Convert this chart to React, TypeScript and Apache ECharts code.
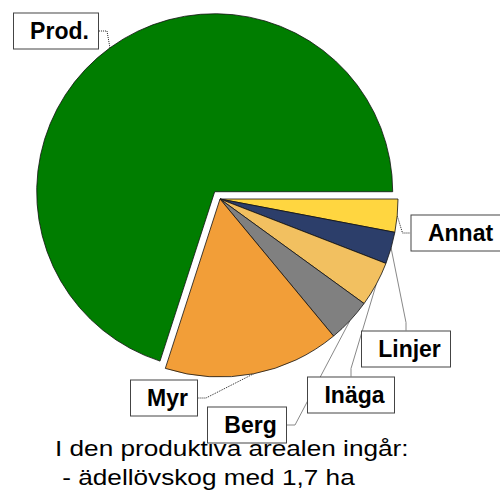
import React, { useEffect, useRef } from "react";
import * as echarts from "echarts";

const categories = ["Annat", "Linjer", "Inäga", "Berg", "Myr", "Prod."];
const shares = [3.0, 2.9, 4.1, 4.0, 16.0, 70.1];
const colors = ["#FFD640", "#2C3E6A", "#F2C060", "#808080", "#F29E38", "#007D00"];
const noteLines = ["I den produktiva arealen ingår:", " - ädellövskog med 1,7 ha"];
const explodedName = "Prod.";

// label box centres (pixels)
const labelCentres: [number, number][] = [
  [457, 233],
  [406, 349],
  [351, 395],
  [247, 425],
  [164, 398],
  [56, 31],
];
const dottedLeaders = [true, false, false, false, true, true];

const FONT = "Liberation Sans, Arial, sans-serif";

function measure(text: string): number {
  const c = document.createElement("canvas").getContext("2d")!;
  c.font = `bold 23px ${FONT}`;
  return Math.ceil(c.measureText(text).width);
}

export default function App() {
  const ref = useRef<HTMLDivElement>(null);
  useEffect(() => {
    document.body.style.margin = "0";
    const chart = echarts.init(ref.current!, undefined, { renderer: "svg" });
    const center: [number, number] = [220, 199];
    const offset = 9;
    const total = shares.reduce((a, b) => a + b, 0);
    const exIdx = categories.indexOf(explodedName);
    const before = shares.slice(0, exIdx).reduce((a, b) => a + b, 0);
    const midAngle = ((before + shares[exIdx] / 2) / total) * Math.PI * 2;
    const center2: [number, number] = [
      center[0] + Math.cos(midAngle) * offset,
      center[1] + Math.sin(midAngle) * offset,
    ];

    const makeData = (showExploded: boolean) =>
      categories.map((name, i) => {
        const visible = (name === explodedName) === showExploded;
        return {
          name,
          value: shares[i],
          itemStyle: visible
            ? { color: colors[i] }
            : { color: "rgba(0,0,0,0)", borderWidth: 0 },
          label: visible ? { show: true, width: measure(name) } : { show: false },
          labelLine: visible
            ? {
                show: true,
                lineStyle: {
                  type: dottedLeaders[i] ? "dotted" : "solid",
                  color: dottedLeaders[i] ? "#222" : "#888",
                  width: 1,
                },
              }
            : { show: false },
        };
      });

    const common = {
      type: "pie",
      radius: [0, 178],
      startAngle: 0,
      clockwise: true,
      silent: true,
      itemStyle: { borderColor: "#111", borderWidth: 0.8 },
      label: {
        show: true,
        formatter: "{b}",
        overflow: "none",
        fontSize: 23,
        fontWeight: "bold",
        fontFamily: FONT,
        color: "#000",
        backgroundColor: "#fff",
        borderColor: "#444",
        borderWidth: 1,
        padding: [6, 9, 6, 16],
        lineHeight: 23,
      },
      labelLine: { show: true, length: 12, length2: 8 },
      labelLayout: (params: any) => {
        const p = labelCentres[params.dataIndex];
        return { x: p[0], y: p[1], align: "center", verticalAlign: "middle" };
      },
      emphasis: { disabled: true },
    };

    chart.setOption({
      animation: false,
      backgroundColor: "#fff",
      series: [
        { ...common, center, data: makeData(false) },
        { ...common, center: center2, data: makeData(true) },
      ],
      graphic: [
        {
          type: "text",
          x: 55,
          y: 434,
          scaleX: 1.19,
          style: {
            text: noteLines.join("\n"),
            fontSize: 22,
            lineHeight: 29,
            fontFamily: FONT,
            fill: "#000",
          },
        },
      ],
    });
    return () => chart.dispose();
  }, []);
  return <div ref={ref} style={{ width: 500, height: 493 }} />;
}
